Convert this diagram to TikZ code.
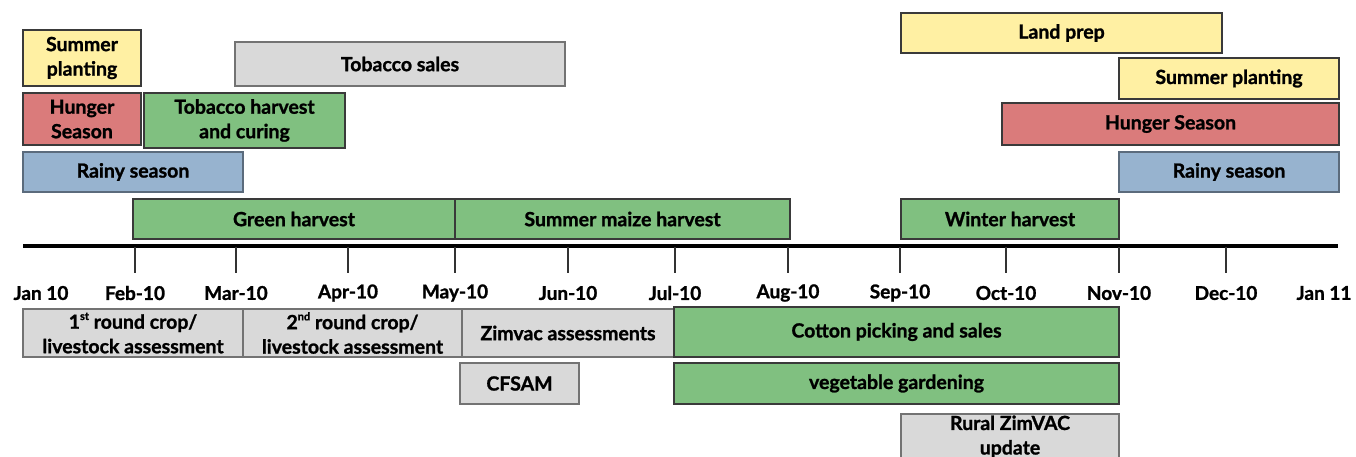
\documentclass[tikz,border=0pt]{standalone}
\usepackage{fontspec}
\setmainfont{Lato}[BoldFeatures={FakeBold=1.2}]
\definecolor{cyel}{HTML}{FFF0A3}
\definecolor{cred}{HTML}{DA7B7B}
\definecolor{cgrn}{HTML}{80C080}
\definecolor{cblu}{HTML}{97B3CF}
\definecolor{cgry}{HTML}{D9D9D9}
\definecolor{cdark}{HTML}{3A3A3A}
\newcommand{\tbox}[7]{\node[#6, minimum width={#4-#2}, minimum height={#5-#3}] (#1) at ({(#2+#4)/2},{(#3+#5)/2}) {#7};}
\newcommand{\sps}[1]{\raisebox{0.45em}{\fontsize{11}{11}\selectfont #1}}
\begin{document}
\begin{tikzpicture}[x=1pt,y=-1pt,
  box/.style={draw=cdark, line width=1.8pt, inner sep=0pt, outer sep=0pt, align=center,
    font=\fontsize{19.5}{24.5}\selectfont\bfseries},
  yel/.style={box, fill=cyel},
  red/.style={box, fill=cred},
  grn/.style={box, fill=cgrn},
  blu/.style={box, fill=cblu, draw=cblu!60!black},
  gry/.style={box, fill=cgry, draw=black!55},
  tick/.style={line width=1.6pt, draw=black!80},
  axis/.style={line width=4pt, draw=black},
  mlab/.style={font=\fontsize{19}{22}\selectfont\bfseries, inner sep=0pt}]
\useasboundingbox (0,0) rectangle (1356,457);
% top boxes
\tbox{sp1}{23}{30}{141}{86}{yel}{Summer\\planting}
\tbox{ts}{235}{42}{565}{86}{gry}{Tobacco sales}
\tbox{hs1}{23}{93}{141}{145}{red}{Hunger\\Season}
\tbox{thc}{144}{93}{345}{148}{grn}{Tobacco harvest\\and curing}
\tbox{rs1}{23}{152}{243}{192}{blu}{Rainy season}
\tbox{gh}{133}{199}{455}{239}{grn}{Green harvest}
\tbox{smh}{455}{199}{790}{239}{grn}{Summer maize harvest}
\tbox{lp}{901}{13}{1222}{53}{yel}{Land prep}
\tbox{sp2}{1119}{58}{1339}{99}{yel}{Summer planting}
\tbox{hs2}{1002}{103}{1339}{145}{red}{Hunger Season}
\tbox{rs2}{1119}{152}{1339}{192}{blu}{Rainy season}
\tbox{wh}{901}{199}{1119}{239}{grn}{Winter harvest}
% axis
\draw[axis] (23,245.5) -- (1338,245.5);
\foreach \x in {135,236,348,455,568,675,788,900,1006,1119,1226}
  \draw[tick] (\x,247) -- (\x,273);
\node[mlab] (m0) at (41,293) {Jan 10};
\node[mlab] (m1) at (135,293) {Feb-10};
\node[mlab] (m2) at (236,293) {Mar-10};
\node[mlab] (m3) at (348,293) {Apr-10};
\node[mlab] (m4) at (455,293) {May-10};
\node[mlab] (m5) at (568,293) {Jun-10};
\node[mlab] (m6) at (675,293) {Jul-10};
\node[mlab] (m7) at (788,293) {Aug-10};
\node[mlab] (m8) at (900,293) {Sep-10};
\node[mlab] (m9) at (1006,293) {Oct-10};
\node[mlab] (m10) at (1119,293) {Nov-10};
\node[mlab] (m11) at (1226,293) {Dec-10};
\node[mlab] (m12) at (1324,293) {Jan 11};
% bottom boxes
\tbox{r1}{23}{309}{243}{357}{gry}{1\sps{st} round crop/\\livestock assessment}
\tbox{r2}{243}{309}{462}{357}{gry}{2\sps{nd} round crop/\\livestock assessment}
\tbox{za}{462}{309}{674}{357}{gry}{Zimvac assessments}
\tbox{cp}{674}{307}{1119}{357}{grn}{Cotton picking and sales}
\tbox{cf}{460}{363}{579}{404}{gry}{CFSAM}
\tbox{vg}{674}{363}{1119}{404}{grn}{vegetable gardening}
\draw[gry] (901,414) rectangle (1119,470);
\node[box, draw=none, anchor=north] (rz) at (1010,415.5) {Rural ZimVAC\\update};
\end{tikzpicture}
\end{document}
